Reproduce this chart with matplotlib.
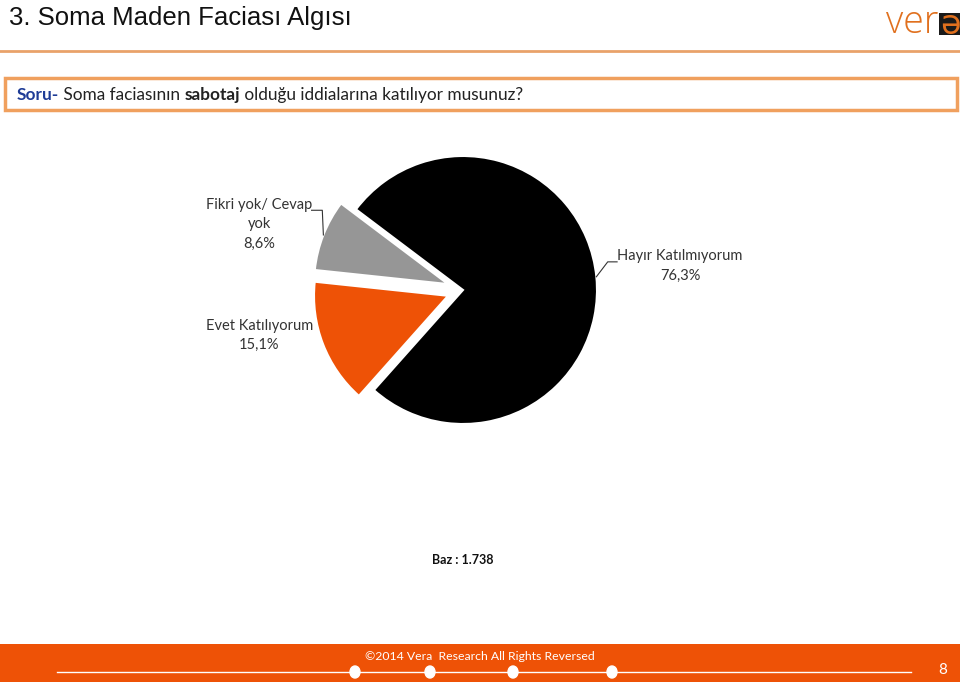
import numpy as np
import matplotlib
matplotlib.use("Agg")
import matplotlib.pyplot as plt
from matplotlib.patches import Rectangle, Ellipse

# data
labels = ["Hayır Katılmıyorum", "Evet Katılıyorum", "Fikri yok/ Cevap\nyok"]
values = [76.3, 15.1, 8.6]
colors = ["#000000", "#EE5206", "#969696"]
explode = [0, 0.12, 0.12]

title = "3. Soma Maden Faciası Algısı"
base_text = "Baz : 1.738"
footer_text = "©2014 Vera  Research All Rights Reversed"
page_no = "8"

ORANGE = "#EE5206"
TXT = "#333333"
plt.rcParams['font.family'] = ['Lato', 'DejaVu Sans']

fig = plt.figure(figsize=(9.6, 6.82), dpi=100)
W, H = 960, 682


def fx(px):
    return px / W


def fy(py):
    return 1 - py / H


# header
fig.text(fx(9), fy(18), title, fontsize=18.5, color="#111111", va="center", ha="left",
         family=['Liberation Sans'])
fig.add_artist(plt.Line2D([0, 1], [fy(51), fy(51)], color="#E9A26A", lw=2))

# logo
fig.add_artist(Rectangle((fx(939), fy(35)), fx(21), 22 / H, color="#1a1a1a", lw=0))
fig.text(fx(939), fy(23), "ver", fontsize=27, color="#E0701E", va="center", ha="right",
         fontweight="light", family=['Open Sans', 'DejaVu Sans'])
fig.text(fx(950), fy(24), "ə", fontsize=24, color="#E0701E", va="center", ha="center",
         family=['DejaVu Sans'])

# question box
fig.add_artist(Rectangle((fx(5), fy(110)), fx(952), (110 - 78) / H, fill=False,
                         ec="#F0A05E", lw=2.5))
pieces = [("Soru-", "bold", "#1F3C96"), (" Soma faciasının ", "normal", "#222222"),
          ("sabotaj", "bold", "#222222"),
          (" olduğu iddialarına katılıyor musunuz?", "normal", "#222222")]
fig.canvas.draw()
r = fig.canvas.get_renderer()
x = fx(17)
for s, wt, c in pieces:
    t = fig.text(x, fy(95), s, fontsize=12.4, fontweight=wt, color=c, va="center", ha="left")
    bb = t.get_window_extent(renderer=r)
    x += bb.width / W

# pie
ax = fig.add_axes([fx(463 - 201), fy(290 + 201), 402 / W, 402 / H])
wedges, _ = ax.pie(values, colors=colors, explode=explode, startangle=143,
                   counterclock=False, wedgeprops=dict(edgecolor="white", linewidth=1.5))
ax.set_xlim(-1.5, 1.5)
ax.set_ylim(-1.5, 1.5)
ax.set_aspect("equal")
ax.axis("off")


def edge_point(w):
    a = np.deg2rad((w.theta1 + w.theta2) / 2)
    cx, cy = w.center
    return cx + w.r * np.cos(a), cy + w.r * np.sin(a)


lab_kw = dict(fontsize=10.5, color=TXT, ha="center", va="center", linespacing=1.5)
# Hayır
ax.text(1.62, 0.18, f"{labels[0]}\n{values[0]:.1f}%".replace(".", ","), **lab_kw)
px, py = edge_point(wedges[0])
ax.plot([1.15, 1.08, px], [0.21, 0.21, py], color=TXT, lw=0.8, clip_on=False)
# Evet
ax.text(-1.52, -0.34, f"{labels[1]}\n{values[1]:.1f}%".replace(".", ","), **lab_kw)
# Fikri
ax.text(-1.52, 0.49, f"{labels[2]}\n{values[2]:.1f}%".replace(".", ","), **lab_kw)
px, py = edge_point(wedges[2])
ax.plot([-1.13, -1.05, px], [0.595, 0.595, py], color=TXT, lw=0.8, clip_on=False)

fig.text(fx(463), fy(560), base_text, fontsize=9, fontweight="bold", color="#111111",
         ha="center", va="center")

# footer
fig.add_artist(Rectangle((0, 0), 1, fy(644), color=ORANGE, lw=0))
fig.text(fx(480), fy(656), footer_text, fontsize=8.8, color="white", ha="center", va="center")
fig.add_artist(plt.Line2D([fx(57), fx(911)], [fy(672), fy(672)], color="white", lw=1))
for dx in [355, 430, 513, 612]:
    fig.add_artist(Ellipse((fx(dx), fy(672)), 10 / W, 12 / H, color="white"))
fig.text(fx(943), fy(670), page_no, fontsize=11, color="white", ha="center", va="center")

fig.savefig("out.png", dpi=100)
